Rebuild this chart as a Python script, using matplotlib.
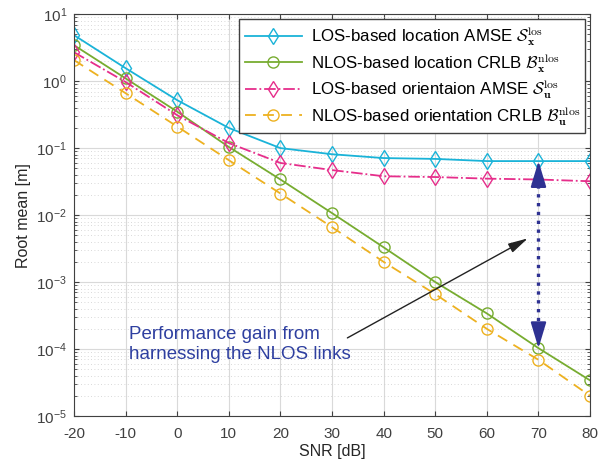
import numpy as np
import matplotlib
matplotlib.use('Agg')
import matplotlib.pyplot as plt

snr = [-20, -10, 0, 10, 20, 30, 40, 50, 60, 70, 80]
los_loc_amse = [4.86, 1.56, 0.52, 0.20, 0.10, 0.081, 0.071, 0.069, 0.064, 0.064, 0.064]
nlos_loc_crlb = [3.44, 1.10, 0.35, 0.104, 0.034, 0.0107, 0.0033, 0.0010, 3.4e-4, 1.03e-4, 3.4e-5]
los_ori_amse = [2.7, 0.97, 0.31, 0.119, 0.060, 0.047, 0.038, 0.037, 0.035, 0.034, 0.032]
nlos_ori_crlb = [2.06, 0.66, 0.21, 0.066, 0.021, 0.0066, 0.0020, 6.6e-4, 2.0e-4, 6.9e-5, 2.0e-5]

plt.rcParams['font.family'] = ['Liberation Sans', 'DejaVu Sans']
plt.rcParams['mathtext.fontset'] = 'cm'
plt.rcParams['axes.unicode_minus'] = False

fig = plt.figure(figsize=(6.04, 4.72), dpi=100)
ax = fig.add_axes([0.1225, 0.1186, 0.8545, 0.8514])

ax.semilogy(snr, los_loc_amse, color='#1ab3d8', marker='d', mfc='none', ms=8, lw=1.3,
            label=r'LOS-based location AMSE $\mathcal{S}_{\mathbf{x}}^{\mathrm{los}}$')
ax.semilogy(snr, nlos_loc_crlb, color='#77ac30', marker='o', mfc='none', ms=8, lw=1.3,
            label=r'NLOS-based location CRLB $\mathcal{B}_{\mathbf{x}}^{\mathrm{nlos}}$')
ax.semilogy(snr, los_ori_amse, color='#e62e8b', marker='d', mfc='none', ms=8, lw=1.3, ls='-.',
            label=r'LOS-based orientaion AMSE $\mathcal{S}_{\mathbf{u}}^{\mathrm{los}}$')
ax.semilogy(snr, nlos_ori_crlb, color='#edb120', marker='o', mfc='none', ms=8, lw=1.3,
            ls=(0, (6, 4)),
            label=r'NLOS-based orientation CRLB $\mathcal{B}_{\mathbf{u}}^{\mathrm{nlos}}$')

ax.set_xlim(-20, 80)
ax.set_ylim(1e-5, 10)
ax.set_xticks(snr)
ax.grid(True, which='major', color='#d9d9d9', lw=0.8)
ax.grid(True, which='minor', color='#cccccc', lw=0.6, ls=(0, (1, 3)))
ax.tick_params(which='both', direction='in', top=True, right=True, labelsize=11,
               colors='#404040')
ax.tick_params(axis='x', pad=8)
ax.tick_params(axis='y', pad=5)
for s in ax.spines.values():
    s.set_color('#404040')
ax.set_xlabel('SNR [dB]', fontsize=11.5, color='#262626', labelpad=2)
ax.set_ylabel('Root mean [m]', fontsize=11.5, color='#262626', labelpad=4)

# gap arrow at 70 dB: dotted shaft + two solid heads
gap_top, gap_bot = los_loc_amse[9], nlos_loc_crlb[9]
ax.plot([70, 70], [gap_top * 0.6, gap_bot * 1.6], color='#2e3192', lw=2.4, ls=':')
head = dict(arrowstyle='-|>,head_length=1.0,head_width=0.3', color='#2e3192',
            lw=1.5, mutation_scale=16, shrinkA=0, shrinkB=0)
ax.annotate('', xy=(70, gap_top), xytext=(70, gap_top * 0.45), arrowprops=head)
ax.annotate('', xy=(70, gap_bot), xytext=(70, gap_bot * 2.2), arrowprops=head)

ax.annotate('', xy=(68.4, 4.7e-3), xytext=(32.5, 1.4e-4),
            arrowprops=dict(arrowstyle='-|>,head_length=0.8,head_width=0.2',
                            color='#222222', lw=1, mutation_scale=15))
ax.text(-9.3, 1.17e-4, 'Performance gain from\nharnessing the NLOS links',
        color='#2e3fa0', fontsize=13.5, va='center', ha='left', linespacing=1.2)

leg = ax.legend(loc='upper right', fontsize=12.2, fancybox=False, framealpha=1,
                edgecolor='#404040', handlelength=3.4, handletextpad=0.5,
                borderpad=0.3, labelspacing=0.15, borderaxespad=0.3)
leg.get_frame().set_linewidth(1.0)

fig.savefig('out.png', dpi=100)
